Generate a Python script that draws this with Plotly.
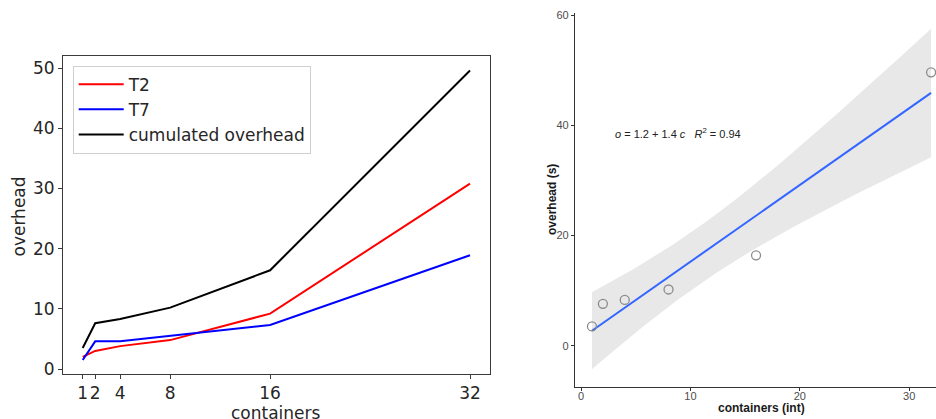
import numpy as np
import plotly.graph_objects as go

# ---------------- data ----------------
containers = [1, 2, 4, 8, 16, 32]
t2_overhead = [2.0, 3.0, 3.8, 4.8, 9.2, 30.8]
t7_overhead = [1.5, 4.6, 4.6, 5.5, 7.3, 18.9]
cumulated_overhead = [3.5, 7.6, 8.3, 10.2, 16.4, 49.6]
left_xticks = [1, 2, 4, 8, 16, 32]
left_yticks = [0, 10, 20, 30, 40, 50]
right_xticks = [0, 10, 20, 30]
right_yticks = [0, 20, 40, 60]
T_CRIT = 2.776  # t(0.975, df=4)

W, H = 936, 419


def px_x(p):
    return p / W


def px_y(p):
    return 1 - p / H


# ---------------- regression (lm fit with 95% CI) ----------------
xa = np.array(containers, dtype=float)
ya = np.array(cumulated_overhead, dtype=float)
slope, intercept = np.polyfit(xa, ya, 1)
resid = ya - (intercept + slope * xa)
n = len(xa)
s = np.sqrt(np.sum(resid ** 2) / (n - 2))
sxx = np.sum((xa - xa.mean()) ** 2)
grid = np.linspace(xa.min(), xa.max(), 80)
fit = intercept + slope * grid
half = T_CRIT * s * np.sqrt(1 / n + (grid - xa.mean()) ** 2 / sxx)
upper = fit + half
lower = fit - half

fig = go.Figure()

# ---------------- left panel ----------------
fig.add_trace(go.Scatter(x=containers, y=t2_overhead, mode="lines", name="T2",
                         line=dict(color="#ff0000", width=2), xaxis="x", yaxis="y"))
fig.add_trace(go.Scatter(x=containers, y=t7_overhead, mode="lines", name="T7",
                         line=dict(color="#0000ff", width=2), xaxis="x", yaxis="y"))
fig.add_trace(go.Scatter(x=containers, y=cumulated_overhead, mode="lines",
                         name="cumulated overhead",
                         line=dict(color="#000000", width=2), xaxis="x", yaxis="y"))

# ---------------- right panel ----------------
fig.add_trace(go.Scatter(x=np.concatenate([grid, grid[::-1]]),
                         y=np.concatenate([upper, lower[::-1]]),
                         fill="toself", fillcolor="#e8e8e8", mode="lines",
                         line=dict(width=0, color="rgba(0,0,0,0)"),
                         showlegend=False, hoverinfo="skip",
                         xaxis="x2", yaxis="y2"))
fig.add_trace(go.Scatter(x=grid, y=fit, mode="lines",
                         line=dict(color="#3366ff", width=2),
                         showlegend=False, xaxis="x2", yaxis="y2"))
fig.add_trace(go.Scatter(x=containers, y=cumulated_overhead, mode="markers",
                         marker=dict(symbol="circle-open", size=9,
                                     color="#8c8c8c", line=dict(width=1.3, color="#8c8c8c")),
                         cliponaxis=False,
                         showlegend=False, xaxis="x2", yaxis="y2"))

left_font = dict(family="DejaVu Sans", size=17, color="#262626")
right_font = dict(family="Liberation Sans, Arial", size=11, color="#4d4d4d")

common_left = dict(showgrid=False, zeroline=False, showline=True, mirror=True,
                   linecolor="#3a3a3a", linewidth=1, ticks="outside", ticklen=4,
                   tickwidth=1, tickcolor="#3a3a3a", tickfont=left_font,
                   automargin=False, tickangle=0)
common_right = dict(showgrid=False, zeroline=False, showline=True, mirror=False,
                    linecolor="#333333", linewidth=1.2, ticks="outside", ticklen=3,
                    tickwidth=1, tickcolor="#333333", tickfont=right_font,
                    automargin=False, tickangle=0)

fig.update_layout(
    width=W, height=H,
    margin=dict(l=0, r=0, t=0, b=0, pad=0, autoexpand=False),
    paper_bgcolor="white", plot_bgcolor="white",
    xaxis=dict(domain=[px_x(63), px_x(490)], range=[-0.577, 33.6],
               tickmode="array", tickvals=left_xticks, anchor="y", **common_left),
    yaxis=dict(domain=[px_y(374), px_y(56)], range=[-0.83, 52.0],
               tickmode="array", tickvals=left_yticks, anchor="x", **common_left),
    xaxis2=dict(domain=[px_x(575), 1.0], range=[-0.55, 32.45],
                tickmode="array", tickvals=right_xticks, anchor="y2",
                ticklabelstandoff=-4, **common_right),
    yaxis2=dict(domain=[px_y(386.7), px_y(12.7)], range=[-7.44, 60.42],
                tickmode="array", tickvals=right_yticks, anchor="x2", **common_right),
    legend=dict(x=px_x(72.7), y=px_y(65.7), xanchor="left", yanchor="top",
                bgcolor="white", bordercolor="#d0d0d0", borderwidth=1,
                font=left_font, itemwidth=45),
    showlegend=True,
)

annotations = [
    dict(text="containers", x=px_x(276), y=px_y(413), xref="paper", yref="paper",
         showarrow=False, font=dict(family="DejaVu Sans", size=17, color="#262626"),
         xanchor="center", yanchor="middle"),
    dict(text="overhead", x=px_x(18.5), y=px_y(217), xref="paper", yref="paper",
         showarrow=False, textangle=-90,
         font=dict(family="DejaVu Sans", size=17, color="#262626"),
         xanchor="center", yanchor="middle"),
    dict(text="<b>containers (int)</b>", x=px_x(761), y=px_y(408), xref="paper", yref="paper",
         showarrow=False, font=dict(family="Liberation Sans, Arial", size=12, color="#1a1a1a"),
         xanchor="center", yanchor="middle"),
    dict(text="<b>overhead (s)</b>", x=px_x(552), y=px_y(200), xref="paper", yref="paper",
         showarrow=False, textangle=-90,
         font=dict(family="Liberation Sans, Arial", size=12, color="#1a1a1a"),
         xanchor="center", yanchor="middle"),
    dict(text="<i>o</i> = %.1f + %.1f <i>c</i>   <i>R</i><sup>2</sup> = 0.94" % (intercept - 0.1, slope),
         x=px_x(612.7), y=px_y(132.7), xref="paper", yref="paper",
         showarrow=False, font=dict(family="Liberation Sans, Arial", size=11, color="#222222"),
         xanchor="left", yanchor="middle"),
]
fig.update_layout(annotations=annotations)

fig.write_html("out.html",
               config={"displayModeBar": False},
               post_script="document.body.style.margin='0px';"
                           "document.body.style.overflow='hidden';")
